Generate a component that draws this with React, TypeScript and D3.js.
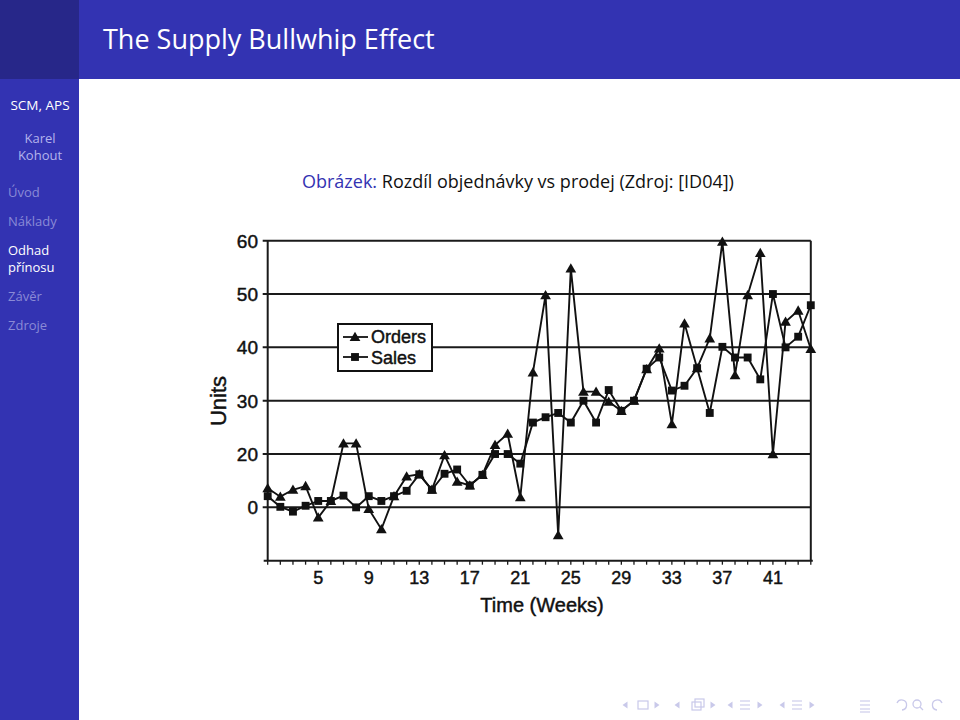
import React from "react";
import * as d3 from "d3";

// ---- data ----
const weeks = [1,2,3,4,5,6,7,8,9,10,11,12,13,14,15,16,17,18,19,20,21,22,23,24,25,26,27,28,29,30,31,32,33,34,35,36,37,38,39,40,41,42,43,44];
const orders = [13.6,12.0,13.3,14.0,8.1,11.2,22.0,22.0,9.7,5.9,12.1,15.8,16.2,13.3,19.8,14.8,14.1,16.1,21.7,23.8,11.9,35.3,49.8,4.8,54.8,31.7,31.7,29.8,28.1,30.0,35.9,39.8,25.6,44.5,36.1,41.7,59.8,34.8,49.8,57.7,20.0,44.8,46.9,39.7];
const sales = [12.1,10.1,9.2,10.3,11.2,11.2,12.2,10.0,12.1,11.2,12.1,13.1,16.2,13.3,16.3,17.1,14.1,16.1,20.0,20.0,18.2,25.9,26.9,27.7,25.9,30.0,25.9,32.0,28.1,30.0,36.0,38.1,31.9,32.8,36.1,27.7,40.1,38.1,38.1,34.0,50.0,40.0,42.0,47.9];
const yTickValues = [60, 50, 40, 30, 20, 10];
const yTickLabels = ["60", "50", "40", "30", "20", "0"];
const xTickValues = [5, 9, 13, 17, 21, 25, 29, 33, 37, 41];
const seriesNames = ["Orders", "Sales"];

const navItems = ["Úvod", "Náklady", "Odhad", "Závěr", "Zdroje"];

const BLUE = "#3333b2";
const DARK = "#272789";
const DIM = "#8a8ad6";
const NAVC = "#c9c9ea";
const CHARTFONT = "'Liberation Sans', Arial, sans-serif";
const SLIDEFONT = "'Open Sans', 'DejaVu Sans', sans-serif";

export default function App() {
  const x = d3.scaleLinear().domain([1, 44]).range([267.7, 810.8]);
  const y = d3.scaleLinear().domain([0, 60]).range([560.7, 240.7]);
  const line = d3.line<number>().x((_, i) => x(weeks[i])).y((d) => y(d));
  const tri = d3.symbol(d3.symbolTriangle, 50)() as string;
  const sq = d3.symbol(d3.symbolSquare, 62)() as string;
  const minorTicks = d3.range(1, 45);
  const x0 = x.range()[0];
  const x1 = x.range()[1];
  const yB = y(0);
  const yT = y(60);

  const arrowL = (cx: number, cy: number) => `M${cx + 2.5},${cy - 3.5} L${cx - 2.5},${cy} L${cx + 2.5},${cy + 3.5} Z`;
  const arrowR = (cx: number, cy: number) => `M${cx - 2.5},${cy - 3.5} L${cx + 2.5},${cy} L${cx - 2.5},${cy + 3.5} Z`;
  const ny = 705;
  const inkText = { stroke: "#111", strokeWidth: 0.45 };
  const SB = 13;

  return (
    <svg width={960} height={720} style={{ position: "absolute", left: 0, top: 0, background: "#fff" }}>
      {/* slide frame */}
      <rect x={0} y={0} width={960} height={720} fill="#fff" />
      <rect x={0} y={0} width={960} height={79} fill={BLUE} />
      <rect x={0} y={0} width={79} height={720} fill={BLUE} />
      <rect x={0} y={0} width={79} height={79} fill={DARK} />
      <text x={103} y={49} fill="#fff" fontFamily={SLIDEFONT} fontSize={27}>The Supply Bullwhip Effect</text>

      {/* sidebar */}
      <text x={40} y={110} textAnchor="middle" fill="#fff" fontFamily={SLIDEFONT} fontSize={13.5}>SCM, APS</text>
      <text x={40} y={143} textAnchor="middle" fill="#b4b4ec" fontFamily={SLIDEFONT} fontSize={SB}>Karel</text>
      <text x={40} y={160} textAnchor="middle" fill="#b4b4ec" fontFamily={SLIDEFONT} fontSize={SB}>Kohout</text>
      <text x={8} y={197} fill={DIM} fontFamily={SLIDEFONT} fontSize={SB}>{navItems[0]}</text>
      <text x={8} y={226} fill={DIM} fontFamily={SLIDEFONT} fontSize={SB}>{navItems[1]}</text>
      <text x={8} y={255} fill="#fff" fontFamily={SLIDEFONT} fontSize={SB}>{navItems[2]}</text>
      <text x={8} y={272} fill="#fff" fontFamily={SLIDEFONT} fontSize={SB}>přínosu</text>
      <text x={8} y={301} fill={DIM} fontFamily={SLIDEFONT} fontSize={SB}>{navItems[3]}</text>
      <text x={8} y={330} fill={DIM} fontFamily={SLIDEFONT} fontSize={SB}>{navItems[4]}</text>

      {/* caption */}
      <text x={302} y={188} fontFamily={SLIDEFONT} fontSize={18} fill="#111">
        <tspan fill={BLUE}>Obrázek:</tspan> Rozdíl objednávky vs prodej (Zdroj: [ID04])
      </text>

      {/* chart: grid */}
      <g stroke="#1a1a1a" strokeWidth={2}>
        {yTickValues.map((v) => (
          <line key={v} x1={x0 - 5} x2={x1} y1={y(v)} y2={y(v)} />
        ))}
        <line x1={x0} x2={x0} y1={yT} y2={yB} />
        <line x1={x1} x2={x1} y1={yT} y2={yB} />
        <line x1={x0 - 4} x2={x1 + 2} y1={yB} y2={yB} />
      </g>
      <g stroke="#1a1a1a" strokeWidth={1.3}>
        {minorTicks.map((w) => (
          <line key={w} x1={x(w)} x2={x(w)} y1={yB} y2={yB + 4} />
        ))}
      </g>
      {/* y tick labels */}
      {yTickValues.map((v, i) => (
        <text key={v} x={258} y={y(v) + 7} textAnchor="end" fontFamily={CHARTFONT} fontSize={19} fill="#111" {...inkText}>{yTickLabels[i]}</text>
      ))}
      {/* x tick labels */}
      {xTickValues.map((w) => (
        <text key={w} x={x(w)} y={584} textAnchor="middle" fontFamily={CHARTFONT} fontSize={18} fill="#111" {...inkText}>{w}</text>
      ))}
      <text x={542} y={612} textAnchor="middle" fontFamily={CHARTFONT} fontSize={20} fill="#111" {...inkText}>Time (Weeks)</text>
      <text transform="translate(226,401) rotate(-90)" textAnchor="middle" fontFamily={CHARTFONT} fontSize={22} fill="#111" {...inkText}>Units</text>

      {/* series */}
      <path d={line(sales) as string} fill="none" stroke="#111" strokeWidth={1.9} />
      <path d={line(orders) as string} fill="none" stroke="#111" strokeWidth={1.9} />
      {sales.map((v, i) => (
        <path key={"s" + i} d={sq} transform={`translate(${x(weeks[i])},${y(v)})`} fill="#111" />
      ))}
      {orders.map((v, i) => (
        <path key={"o" + i} d={tri} transform={`translate(${x(weeks[i])},${y(v) + 1})`} fill="#111" />
      ))}

      {/* legend */}
      <rect x={338} y={324} width={94} height={47} fill="#fff" stroke="#111" strokeWidth={2} />
      <line x1={343} x2={368} y1={337} y2={337} stroke="#111" strokeWidth={1.8} />
      <path d={tri} transform="translate(355,338)" fill="#111" />
      <text x={371} y={343} fontFamily={CHARTFONT} fontSize={18} fill="#111" {...inkText}>{seriesNames[0]}</text>
      <line x1={343} x2={368} y1={357} y2={357} stroke="#111" strokeWidth={1.8} />
      <path d={sq} transform="translate(355,357)" fill="#111" />
      <text x={371} y={364} fontFamily={CHARTFONT} fontSize={18} fill="#111" {...inkText}>{seriesNames[1]}</text>

      {/* beamer navigation symbols */}
      <g fill={NAVC} stroke={NAVC}>
        <path d={arrowL(625, ny)} stroke="none" />
        <rect x={638} y={ny - 4} width={10} height={8} fill="none" strokeWidth={1.2} />
        <path d={arrowR(657, ny)} stroke="none" />
        <path d={arrowL(677, ny)} stroke="none" />
        <rect x={692} y={ny - 3} width={9} height={8} fill="none" strokeWidth={1.2} />
        <rect x={695} y={ny - 6} width={9} height={8} fill="none" strokeWidth={1.2} />
        <path d={arrowR(713, ny)} stroke="none" />
        <path d={arrowL(730, ny)} stroke="none" />
        <g strokeWidth={1.1}>
          <line x1={740} x2={750} y1={ny - 4} y2={ny - 4} />
          <line x1={740} x2={750} y1={ny} y2={ny} />
          <line x1={740} x2={750} y1={ny + 4} y2={ny + 4} />
        </g>
        <path d={arrowR(760, ny)} stroke="none" />
        <path d={arrowL(782, ny)} stroke="none" />
        <g strokeWidth={1.1}>
          <line x1={792} x2={802} y1={ny - 4} y2={ny - 4} />
          <line x1={792} x2={802} y1={ny} y2={ny} />
          <line x1={792} x2={802} y1={ny + 4} y2={ny + 4} />
        </g>
        <path d={arrowR(812, ny)} stroke="none" />
        <g strokeWidth={1.1}>
          <line x1={860} x2={870} y1={ny - 4} y2={ny - 4} />
          <line x1={860} x2={870} y1={ny} y2={ny} />
          <line x1={860} x2={870} y1={ny + 4} y2={ny + 4} />
          <line x1={860} x2={870} y1={ny + 7} y2={ny + 7} />
        </g>
        <g fill="none" strokeWidth={1.3}>
          <path d={`M897,${ny - 2} A5,5 0 1 1 902,${ny + 5}`} />
          <circle cx={917} cy={ny - 1} r={4} />
          <line x1={920} y1={ny + 2} x2={923} y2={ny + 5} />
          <path d={`M942,${ny - 2} A5,5 0 1 0 937,${ny + 5}`} />
        </g>
      </g>
    </svg>
  );
}
